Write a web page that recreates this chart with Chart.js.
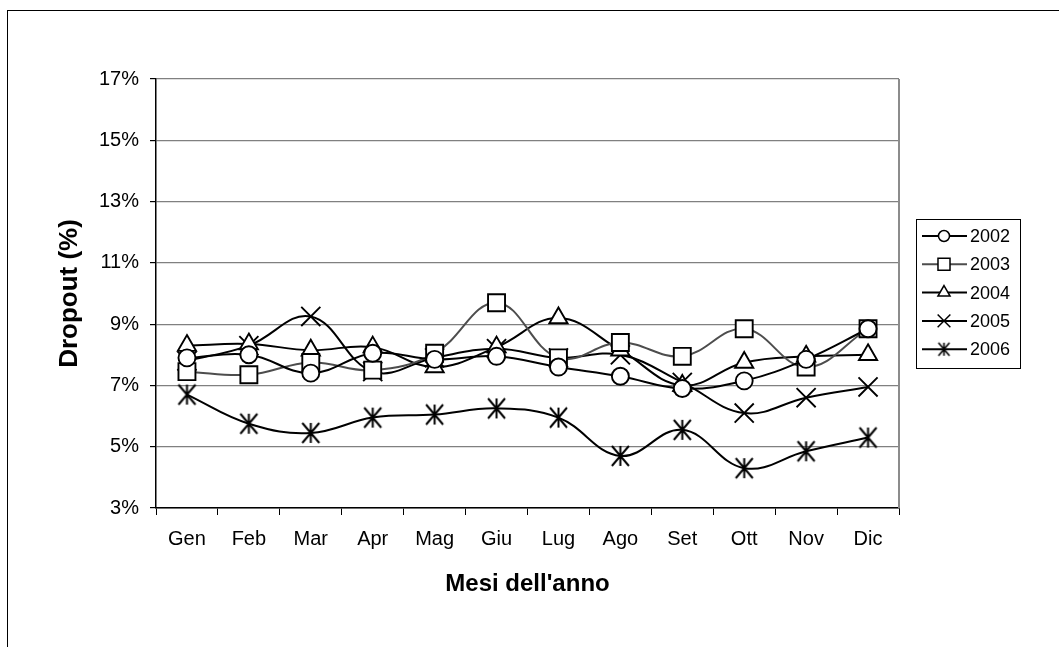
<!DOCTYPE html>
<html>
<head>
<meta charset="utf-8">
<script src="https://cdn.jsdelivr.net/npm/chart.js@4/dist/chart.umd.min.js"></script>
<style>
  html, body { margin: 0; padding: 0; background: #fff; overflow: hidden; }
  #wrap { position: relative; width: 1059px; height: 647px; }
</style>
</head>
<body>
<div id="wrap"><canvas id="dropChart"></canvas></div>
<script>
// months on the x axis
var mesi = ["Gen", "Feb", "Mar", "Apr", "Mag", "Giu", "Lug", "Ago", "Set", "Ott", "Nov", "Dic"];
var anni = ["2002", "2003", "2004", "2005", "2006"];

// dropout values in %
var d2002 = [7.9, 8.0, 7.4, 8.05, 7.85, 7.95, 7.6, 7.3, 6.9, 7.15, 7.85, 8.85];
var d2003 = [7.45, 7.35, 7.75, 7.5, 8.05, 9.7, 7.9, 8.4, 7.95, 8.85, 7.6, 8.85];
var d2004 = [8.3, 8.35, 8.15, 8.25, 7.6, 8.25, 9.2, 8.15, 7.0, 7.75, 7.95, 8.0];
var d2005 = [7.8, 8.3, 9.25, 7.45, 7.9, 8.2, 7.9, 8.0, 7.1, 6.1, 6.6, 6.95];
var d2006 = [6.7, 5.75, 5.45, 5.95, 6.05, 6.25, 5.95, 4.7, 5.55, 4.3, 4.85, 5.3];

var yMin = 3, yMax = 17, yStep = 2;

var FONT = "'Liberation Sans', Arial, sans-serif";

// excel style asterisk: vertical bar + an X
function makeAsterisk(w, h, lw){
    var c = document.createElement('canvas');
    c.width = w + 4; c.height = h + 4;
    var g = c.getContext('2d');
    var cx = c.width / 2, cy = c.height / 2;
    g.strokeStyle = '#000';
    g.lineWidth = lw;
    g.beginPath();
    g.moveTo(cx, cy - h / 2); g.lineTo(cx, cy + h / 2);
    g.moveTo(cx - w / 2, cy - h / 2); g.lineTo(cx + w / 2, cy + h / 2);
    g.moveTo(cx + w / 2, cy - h / 2); g.lineTo(cx - w / 2, cy + h / 2);
    g.stroke();
    return c;
}
var starBig = makeAsterisk(17, 20, 2);
var starSmall = makeAsterisk(11, 13, 1.6);

function serie(label, data, style, radius, lineColor, legendRadius, legendStyle){
    return {
        label: label,
        data: data,
        borderColor: lineColor,
        borderWidth: 2,
        backgroundColor: '#fff',
        pointStyle: style,
        pointRadius: radius,
        pointHoverRadius: radius,
        pointBorderColor: '#000',
        pointBackgroundColor: '#fff',
        pointBorderWidth: 1.9,
        tension: 0.4,
        fill: false,
        legendStyle: legendStyle || style,
        legendRadius: legendRadius
    };
}

var datasets = [
    serie(anni[0], d2002, 'circle', 8.5, '#000', 5.5),
    serie(anni[1], d2003, 'rect', 12, '#4d4d4d', 8.5),
    serie(anni[2], d2004, 'triangle', 10.5, '#000', 7),
    serie(anni[3], d2005, 'crossRot', 13.5, '#000', 9),
    serie(anni[4], d2006, starBig, 10, '#000', 7, starSmall)
];

var framePlugin = {
    id: 'frame',
    beforeDraw: function(chart){
        var ctx = chart.ctx;
        ctx.save();
        ctx.fillStyle = '#fff';
        ctx.fillRect(0, 0, chart.width, chart.height);
        ctx.strokeStyle = '#000';
        ctx.lineWidth = 1;
        ctx.strokeRect(7.5, 10.5, 3000, 3000);
        ctx.restore();
    },
    afterDraw: function(chart){
        var ctx = chart.ctx, a = chart.chartArea;
        ctx.save();
        // plot area right border
        ctx.strokeStyle = '#8c8c8c';
        ctx.lineWidth = 2;
        ctx.beginPath();
        ctx.moveTo(a.right, a.top);
        ctx.lineTo(a.right, a.bottom);
        ctx.stroke();

        // legend box
        var lx = 916.5, ly = 219.5, lw = 104, lh = 149;
        ctx.fillStyle = '#fff';
        ctx.fillRect(lx, ly, lw, lh);
        ctx.strokeStyle = '#000';
        ctx.lineWidth = 1;
        ctx.strokeRect(lx, ly, lw, lh);
        ctx.font = '18px ' + FONT;
        ctx.textBaseline = 'middle';
        chart.data.datasets.forEach(function(ds, i){
            var y = 236 + i * 28.3;
            ctx.strokeStyle = ds.borderColor;
            ctx.lineWidth = 2;
            ctx.beginPath();
            ctx.moveTo(922, y);
            ctx.lineTo(967, y);
            ctx.stroke();
            ctx.strokeStyle = '#000';
            ctx.fillStyle = '#fff';
            ctx.lineWidth = 1.5;
            Chart.helpers.drawPoint(ctx, {
                pointStyle: ds.legendStyle,
                radius: ds.legendRadius,
                rotation: 0,
                borderWidth: 1.5
            }, 944, y);
            ctx.fillStyle = '#000';
            ctx.fillText(ds.label, 970, y + 1);
        });
        ctx.restore();
    }
};

var chart = new Chart(document.getElementById('dropChart'), {
    type: 'line',
    data: { labels: mesi, datasets: datasets },
    plugins: [framePlugin],
    options: {
        responsive: true,
        maintainAspectRatio: false,
        animation: false,
        layout: { padding: { top: 79, right: 160, left: 0, bottom: 0 } },
        plugins: {
            legend: { display: false },
            tooltip: { enabled: false }
        },
        scales: {
            x: {
                offset: true,
                afterFit: function(scale){ scale.height = 139; },
                grid: {
                    offset: true,
                    drawOnChartArea: false,
                    drawTicks: true,
                    tickLength: 7,
                    tickColor: '#000',
                    tickWidth: 1
                },
                border: { color: '#000', width: 1.5 },
                ticks: {
                    color: '#000',
                    padding: 12,
                    maxRotation: 0,
                    font: { family: FONT, size: 20 }
                },
                title: {
                    display: true,
                    text: "Mesi dell'anno",
                    color: '#000',
                    font: { family: FONT, size: 24, weight: 'bold', lineHeight: 1 },
                    padding: { top: 0, bottom: 51 }
                }
            },
            y: {
                min: yMin,
                max: yMax,
                afterFit: function(scale){ scale.width = 156; },
                grid: {
                    color: '#808080',
                    lineWidth: 1.2,
                    tickLength: 6,
                    tickColor: '#000'
                },
                border: { color: '#000', width: 1.5 },
                ticks: {
                    stepSize: yStep,
                    color: '#000',
                    padding: 11,
                    font: { family: FONT, size: 20 },
                    callback: function(v){ return v + '%'; }
                },
                title: {
                    display: true,
                    text: 'Dropout (%)',
                    color: '#000',
                    font: { family: FONT, size: 26, weight: 'bold', lineHeight: 1 },
                    padding: { top: 57, bottom: 0 }
                }
            }
        }
    }
});
</script>
</body>
</html>
